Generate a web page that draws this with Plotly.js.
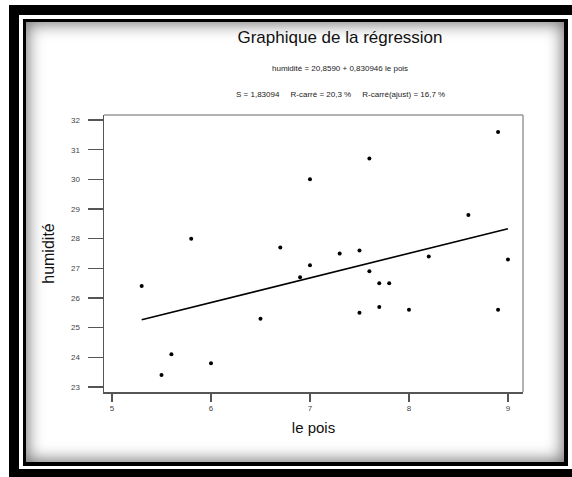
<!DOCTYPE html>
<html>
<head>
<meta charset="utf-8">
<script src="https://cdn.plot.ly/plotly-3.0.1.min.js"></script>
<style>
  html, body { margin:0; padding:0; background:#fff; overflow:hidden; }
  #wrap { position:relative; width:572px; height:477px; overflow:hidden; background:#fff; }
  #outer { position:absolute; left:9px; top:5px; width:600px; height:472px; box-sizing:border-box;
           border-top:10px solid #000; border-left:10px solid #000; border-bottom:8px solid #000; }
  #inner { position:absolute; left:23px; top:19px; width:545px; height:447px; box-sizing:border-box;
           border-top:3px solid #000; border-left:3px solid #000; border-right:4px solid #000; border-bottom:4px solid #000;
           box-shadow: inset 0 0 16px 2px rgba(0,0,0,0.55); background:#fff; }
  #chart { position:absolute; left:0; top:0; width:572px; height:477px; }
</style>
</head>
<body>
<div id="wrap">
  <div id="outer"></div>
  <div id="inner"></div>
  <div id="chart"></div>
</div>
<script>
// Data
const lePois   = [5.3,5.5,5.6,5.8,6.0,6.5,6.7,6.9,7.0,7.0,7.3,7.5,7.5,7.6,7.6,7.7,7.7,7.8,8.0,8.2,8.6,8.9,8.9,9.0];
const humidite = [26.4,23.4,24.1,28.0,23.8,25.3,27.7,26.7,30.0,27.1,27.5,27.6,25.5,30.7,26.9,26.5,25.7,26.5,25.6,27.4,28.8,31.6,25.6,27.3];
const intercept = 20.8590;
const slope = 0.830946;
const fitX = [5.3, 9.0];
const fitY = fitX.map(v => intercept + slope * v);
const xTicks = [5,6,7,8,9];
const yTicks = [23,24,25,26,27,28,29,30,31,32];

const FONT = '"Liberation Sans", Arial, sans-serif';

const traces = [
  { x: lePois, y: humidite, type:'scatter', mode:'markers',
    marker:{ color:'#000', size:4 }, hoverinfo:'x+y', showlegend:false },
  { x: fitX, y: fitY, type:'scatter', mode:'lines',
    line:{ color:'#000', width:1.6 }, hoverinfo:'skip', showlegend:false }
];

const layout = {
  width:572, height:477,
  margin:{ l:104, r:49, t:115, b:85 },
  paper_bgcolor:'rgba(0,0,0,0)',
  plot_bgcolor:'#fff',
  font:{ family:FONT, color:'#222' },
  title:{ text:'Graphique de la régression', font:{ size:17, color:'#111', family:FONT },
          x:340/572, xanchor:'center', xref:'container', y:1-37/477, yanchor:'middle', yref:'container' },
  xaxis:{ range:[4.919, 9.152], tickvals:xTicks, ticktext:xTicks.map(String),
          ticks:'outside', ticklen:8, tickwidth:1.2, tickcolor:'#555',
          showline:true, linecolor:'#555', linewidth:1.5, mirror:false,
          showgrid:false, zeroline:false,
          tickfont:{ size:8, color:'#444' },
          title:{ text:'le pois', font:{ size:15, color:'#111' }, standoff:10 } },
  yaxis:{ range:[22.83, 32.17], tickvals:yTicks, ticktext:yTicks.map(String),
          ticks:'outside', ticklen:15, tickwidth:1.2, tickcolor:'#555',
          showline:true, linecolor:'#555', linewidth:1.5, mirror:false,
          showgrid:false, zeroline:false,
          tickfont:{ size:8, color:'#444' }, ticklabelstandoff:6,
          title:{ text:'humidité', font:{ size:16, color:'#111' }, standoff:12 } },
  shapes:[
    { type:'line', xref:'paper', yref:'paper', x0:0, x1:1, y0:1, y1:1, line:{ color:'#999', width:1.5 } },
    { type:'line', xref:'paper', yref:'paper', x0:1, x1:1, y0:0, y1:1, line:{ color:'#999', width:1.5 } }
  ],
  annotations:[
    { text:'humidité = 20,8590 + 0,830946 le pois', xref:'paper', yref:'paper',
      x:(340-104)/419, y:(392-68)/277, xanchor:'center', yanchor:'middle', showarrow:false,
      font:{ size:8, color:'#222' } },
    { text:'S = 1,83094\u00a0\u00a0\u00a0\u00a0\u00a0R-carré = 20,3 %\u00a0\u00a0\u00a0\u00a0\u00a0R-carré(ajust) = 16,7 %',
      xref:'paper', yref:'paper',
      x:(340-104)/419, y:(392-94)/277, xanchor:'center', yanchor:'middle', showarrow:false,
      font:{ size:8, color:'#222' } }
  ]
};

Plotly.newPlot('chart', traces, layout, { displayModeBar:false, staticPlot:true });
</script>
</body>
</html>
